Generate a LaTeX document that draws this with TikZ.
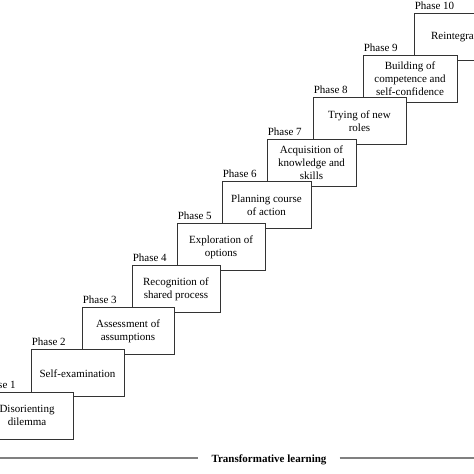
\documentclass[tikz,border=0pt]{standalone}
\usepackage{fontspec}
\setmainfont{Liberation Serif}

\begin{document}
\begin{tikzpicture}
  [x=1pt,y=1pt,
    every node/.style={font=\fontsize{11}{13}\selectfont},
    phase/.style={draw=black!80,line width=0.9pt,fill=white,align=center,
      minimum height=47pt,inner sep=1pt},
    tag/.style={anchor=base west,inner sep=0pt,xshift=1pt,yshift=3.5pt},
  ]
  \useasboundingbox (0,0) rectangle (474,474);
  % lower steps are drawn last, so they lie in front
  \foreach \i/\x/\w/\txt in {10/461/94/Reintegration,
      9/410/94/{Building of\\competence and\\self-confidence},
      8/359.5/93/{Trying of new\\roles},
      7/311.5/89/{Acquisition of\\knowledge and\\skills},
      6/266.5/89/{Planning course\\of action},
      5/221/88/{Exploration of\\options},
      4/176/88/{Recognition of\\shared process},
      3/128/92/{Assessment of\\assumptions},
      2/77.5/93/Self-examination,
      1/27/92/{Disorienting\\dilemma}}
    \node[phase,minimum width=\w pt,label={[tag]north west:Phase \i}]
      (p\i) at (\x,{58.5+42.1*(\i-1)}) {\txt};

  \coordinate (l) at (0,16);
  \coordinate (r) at (474,16);
  \node[anchor=base,inner xsep=13pt,font=\fontsize{11}{13}\selectfont\bfseries]
    (tl) at (269,11) {Transformative learning};
  \draw[black!50,line width=1.8pt] (l) -- (l -| tl.west) (tl.east |- r) -- (r);
\end{tikzpicture}
\end{document}
